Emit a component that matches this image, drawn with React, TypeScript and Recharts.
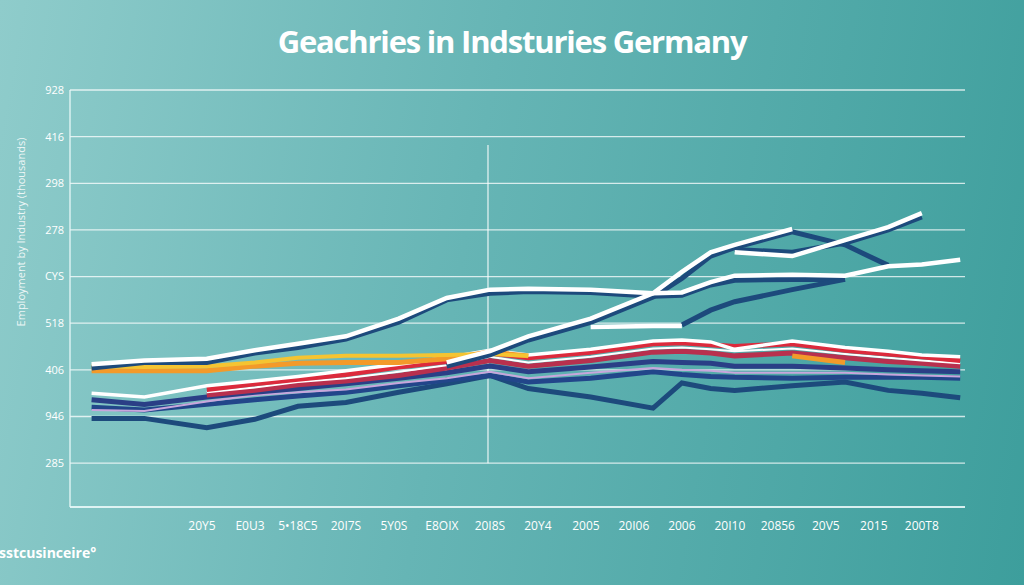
import React from 'react';
import { LineChart, Line, XAxis, YAxis, CartesianGrid, ReferenceLine } from 'recharts';

// x positions of the samples (tick i sits at value i)
const xs = [-2.3, -1.2, 0.1, 1.1, 2.0, 3.0, 4.1, 5.1, 6.0, 6.8, 8.1, 9.4, 10.0, 10.6, 11.1, 12.3, 13.4, 14.3, 15.0, 15.8];

const xLabels = ['20Y5', 'E0U3', '5•18C5', '20I7S', '5Y0S', 'E8OIX', '20I8S', '20Y4', '2005', '20I06', '2006', '20I10', '20856', '20V5', '2015', '200T8'];
const yLabels = ['285', '946', '406', '518', 'CYS', '278', '298', '416', '928'];

const N = null;

// upper group
const navyTop = [102, 108, 108, 118, 124, 133, 151, 175, 182, 184, 183, 179, 180, 191, 196, 197, 197, N, N, N];
const whiteTop = [106, 110, 112, 121, 128, 136, 155, 177, 186, 187, 186, 182, 183, 194, 201, 202, 201, 211, 213, 218];
const navyRise = [N, N, N, N, N, N, N, 104, 116, 132, 151, 178, 198, 222, 231, 248, 234, 212, N, N];
const whiteRise = [N, N, N, N, N, N, N, 108, 120, 136, 155, 182, 205, 226, 234, 251, N, N, N, N];
const navySecond = [N, N, N, N, N, N, N, N, N, N, N, N, N, N, 229, 226, 236, 250, 264, N];
const whiteSecond = [N, N, N, N, N, N, N, N, N, N, N, N, N, N, 226, 222, 239, 253, 268, N];
const navyShort = [N, N, N, N, N, N, N, N, N, N, N, N, 148, 164, 173, 186, 197, N, N, N];
const whiteShort = [N, N, N, N, N, N, N, N, N, N, 146, 147, 147, N, N, N, N, N, N, N];

// lower bundle
const yellow = [104, 103, 104, 108, 113, 115, 115, 116, 117, 115, N, N, N, N, N, N, N, N, N, N];
const orange = [99, 99, 99, 104, 107, 108, 108, 112, 119, 115, N, N, N, N, N, 115, 108, N, N, N];
const red1 = [N, N, 79, 85, 90, 95, 103, 109, 118, 113, 119, 128, 129, 127, 125, 128, 121, 117, 114, 110];
const whiteLow = [75, 71, 83, 88, 93, 99, 106, 113, 121, 116, 122, 131, 132, 130, 122, 131, 124, 120, 116, 114];
const whiteMid = [N, N, 76, 81, 87, 91, 98, 105, 114, 108, 114, 123, 124, 122, 120, 123, 117, 113, 110, 107];
const red2 = [N, N, 73, 78, 84, 88, 94, 102, 110, 104, 110, 119, 120, 118, 115, 118, 113, 109, 107, 104];
const navy1 = [68, 63, 71, 76, 80, 85, 91, 97, 104, 98, 103, 109, 108, 107, 104, 104, 102, 100, 99, 98];
const lavender = [57, 56, 66, 73, 76, 79, 86, 91, 98, 91, 97, 102, 100, 99, 97, 97, 97, 95, 94, 93];
const navy2 = [60, 57, 63, 68, 72, 76, 83, 89, 94, 87, 91, 98, 95, 93, 92, 91, 92, 92, 92, 91];
const navyBottom = [48, 48, 38, 47, 61, 65, 76, 85, 94, 80, 71, 59, 86, 80, 78, 83, 87, 78, 75, 70];

const series: { key: string; values: (number | null)[]; color: string; width: number }[] = [
  { key: 'navyBottom', values: navyBottom, color: '#1d4a7c', width: 5 },
  { key: 'navy2', values: navy2, color: '#22468a', width: 5 },
  { key: 'lavender', values: lavender, color: '#c8a6dc', width: 2 },
  { key: 'navy1', values: navy1, color: '#2a3f86', width: 5 },
  { key: 'red2', values: red2, color: '#b8304e', width: 5 },
  { key: 'whiteMid', values: whiteMid, color: '#ffffff', width: 2 },
  { key: 'red1', values: red1, color: '#dc2a3c', width: 5 },
  { key: 'whiteLow', values: whiteLow, color: '#ffffff', width: 3.5 },
  { key: 'orange', values: orange, color: '#f39a2a', width: 5 },
  { key: 'yellow', values: yellow, color: '#f5c431', width: 4 },
  { key: 'navyTop', values: navyTop, color: '#1d4a7c', width: 5 },
  { key: 'navyRise', values: navyRise, color: '#1d4a7c', width: 5 },
  { key: 'navySecond', values: navySecond, color: '#1d4a7c', width: 5 },
  { key: 'navyShort', values: navyShort, color: '#1d4a7c', width: 5 },
  { key: 'whiteTop', values: whiteTop, color: '#ffffff', width: 4.5 },
  { key: 'whiteRise', values: whiteRise, color: '#ffffff', width: 4.5 },
  { key: 'whiteSecond', values: whiteSecond, color: '#ffffff', width: 4.5 },
  { key: 'whiteShort', values: whiteShort, color: '#ffffff', width: 4.5 },
];

const data = xs.map((x, i) => {
  const row: { [k: string]: number | null } = { x };
  series.forEach((s) => {
    row[s.key] = s.values[i];
  });
  return row;
});

const App: React.FC = () => {
  return (
    <div
      style={{
        position: 'absolute',
        left: 0,
        top: 0,
        width: 1024,
        height: 585,
        overflow: 'hidden',
        background: 'linear-gradient(100deg, #8fcccb 0%, #66b5b5 45%, #3d9e9c 100%)',
        fontFamily: '"Open Sans", sans-serif',
      }}
    >
      <div
        style={{
          position: 'absolute',
          top: 20,
          left: 0,
          width: 1024,
          textAlign: 'center',
          color: '#ffffff',
          fontSize: 31,
          fontWeight: 700,
          letterSpacing: -1.2,
        }}
      >
        Geachries in Indsturies Germany
      </div>

      <div
        style={{
          position: 'absolute',
          left: 20,
          top: 232,
          transform: 'translate(-50%, -50%) rotate(-90deg)',
          whiteSpace: 'nowrap',
          color: 'rgba(255,255,255,0.85)',
          fontSize: 11,
        }}
      >
        Employment by Industry (thousands)
      </div>

      <div
        style={{
          position: 'absolute',
          left: -1,
          top: 543,
          color: '#ffffff',
          fontSize: 14,
          fontWeight: 700,
        }}
      >
        sstcusinceire°
      </div>

      <LineChart
        width={1024}
        height={585}
        data={data}
        margin={{ top: 90, right: 59, bottom: 48, left: 10 }}
        style={{ position: 'absolute', left: 0, top: 0 }}
      >
        <CartesianGrid vertical={false} stroke="rgba(255,255,255,0.75)" strokeWidth={1.3} />
        <XAxis
          dataKey="x"
          type="number"
          domain={[-2.75, 15.9]}
          ticks={xLabels.map((_, i) => i)}
          tickFormatter={(v: number) => xLabels[v] ?? ''}
          tickLine={false}
          tickMargin={8}
          height={30}
          axisLine={{ stroke: '#e6f7f7', strokeWidth: 1.5 }}
          tick={{ fill: '#ffffff', fontSize: 12 }}
          allowDataOverflow
        />
        <YAxis
          type="number"
          domain={[-47, 400]}
          ticks={yLabels.map((_, i) => i * 50)}
          tickFormatter={(v: number) => yLabels[v / 50] ?? ''}
          tickLine={false}
          tickMargin={0}
          width={60}
          axisLine={{ stroke: '#e6f7f7', strokeWidth: 1.3 }}
          tick={{ fill: '#ffffff', fontSize: 11 }}
          allowDataOverflow
        />
        <ReferenceLine
          segment={[
            { x: 5.96, y: 0 },
            { x: 5.96, y: 341 },
          ]}
          stroke="rgba(255,255,255,0.8)"
          strokeWidth={1.3}
        />
        {series.map((s) => (
          <Line
            key={s.key}
            type="linear"
            dataKey={s.key}
            stroke={s.color}
            strokeWidth={s.width}
            dot={false}
            activeDot={false}
            connectNulls={false}
            isAnimationActive={false}
          />
        ))}
      </LineChart>
    </div>
  );
};

export default App;
